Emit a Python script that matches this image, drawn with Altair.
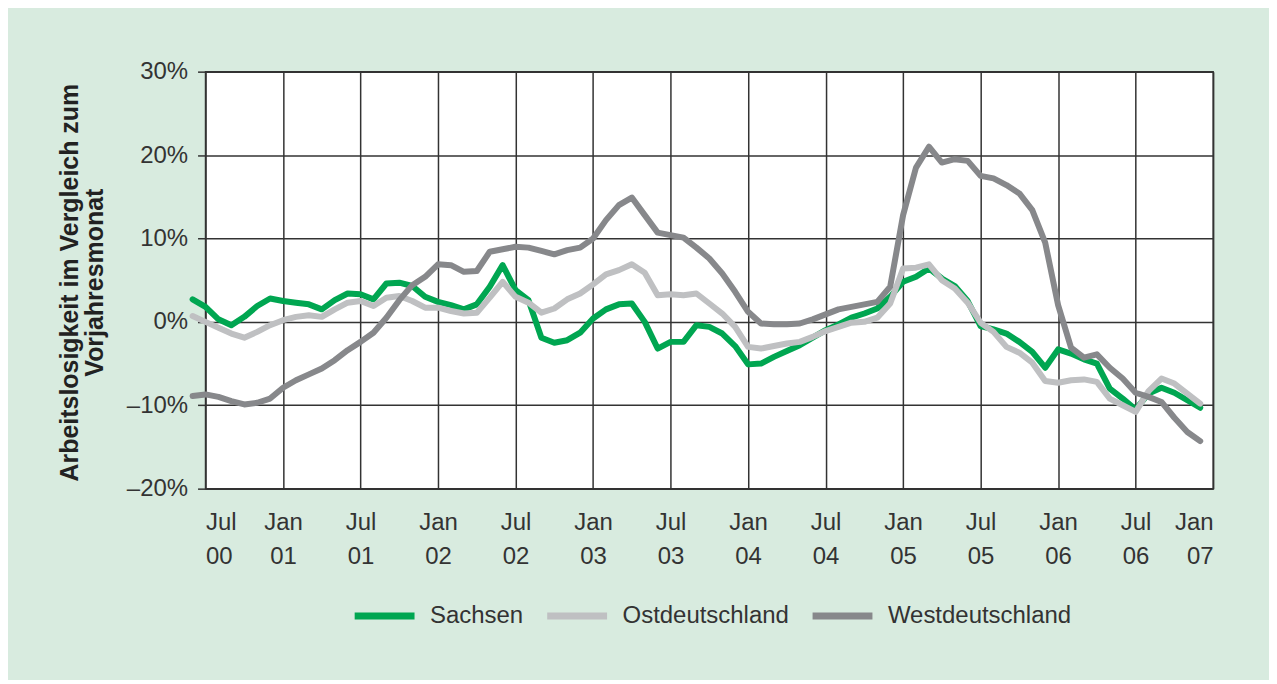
import altair as alt
import pandas as pd

# Monate Jun 2000 .. Dez 2006
monate = [f"{y}-{m:02d}" for y in range(2000, 2007) for m in range(1, 13)][5:]

sachsen = [2.7, 1.8, 0.3, -0.4, 0.6, 1.9, 2.8, 2.5, 2.3, 2.1, 1.5, 2.6, 3.4,
           3.3, 2.7, 4.6, 4.7, 4.3, 3.0, 2.4, 2.0, 1.5, 2.1, 4.2, 6.8,
           3.8, 2.6, -1.9, -2.5, -2.2, -1.3, 0.4, 1.5, 2.1, 2.2, 0.0, -3.2,
           -2.4, -2.4, -0.4, -0.6, -1.4, -2.9, -5.1, -5.0, -4.2, -3.5, -2.8, -1.9,
           -1.0, -0.3, 0.5, 1.0, 1.6, 3.0, 4.8, 5.4, 6.4, 5.2, 4.3, 2.5,
           -0.5, -0.9, -1.4, -2.4, -3.6, -5.5, -3.3, -3.8, -4.5, -5.0, -8.0, -9.2,
           -10.5, -8.6, -7.9, -8.5, -9.4, -10.3]

ost = [0.7, 0.0, -0.7, -1.4, -1.9, -1.2, -0.4, 0.2, 0.6, 0.8, 0.6, 1.5, 2.3,
       2.5, 1.9, 2.9, 3.1, 2.5, 1.7, 1.7, 1.3, 1.0, 1.1, 2.9, 4.8,
       3.0, 2.3, 1.1, 1.6, 2.7, 3.4, 4.5, 5.7, 6.2, 6.9, 5.9, 3.2,
       3.3, 3.2, 3.4, 2.2, 1.0, -0.6, -3.0, -3.2, -2.9, -2.6, -2.4, -1.8,
       -1.1, -0.6, -0.1, 0.0, 0.5, 2.2, 6.4, 6.5, 6.9, 5.0, 4.0, 2.3,
       -0.1, -1.2, -3.0, -3.7, -4.9, -7.1, -7.3, -7.0, -6.9, -7.2, -9.2, -10.0,
       -10.8, -8.3, -6.8, -7.4, -8.6, -9.8]

west = [-8.9, -8.7, -9.0, -9.5, -9.9, -9.7, -9.2, -7.9, -7.0, -6.3, -5.6, -4.6, -3.4,
        -2.4, -1.3, 0.5, 2.6, 4.4, 5.4, 6.9, 6.8, 6.0, 6.1, 8.4, 8.7,
        9.0, 8.9, 8.5, 8.1, 8.6, 8.9, 10.0, 12.2, 14.0, 14.9, 12.8, 10.7,
        10.4, 10.1, 8.9, 7.6, 5.8, 3.6, 1.2, -0.2, -0.3, -0.3, -0.2, 0.3,
        0.9, 1.5, 1.8, 2.1, 2.4, 4.2, 12.8, 18.5, 21.0, 19.1, 19.5, 19.3,
        17.5, 17.2, 16.4, 15.4, 13.4, 9.5, 2.0, -3.1, -4.3, -3.9, -5.5, -6.8,
        -8.5, -9.0, -9.6, -11.5, -13.2, -14.3]

regionen = ["Sachsen", "Ostdeutschland", "Westdeutschland"]
farben = ["#00a651", "#bfc0c2", "#87888b"]
y_ticks = [-20, -10, 0, 10, 20, 30]
x_ticks = list(range(0, 79, 6))  # Monate seit Jul 2000

rows = []
for name, werte in zip(regionen, [sachsen, ost, west]):
    for mon, v in zip(monate, werte):
        y, m = int(mon[:4]), int(mon[5:])
        rows.append({"Region": name, "Monat": mon,
                     "t": (y - 2000) * 12 + (m - 7), "Wert": v})
df = pd.DataFrame(rows)

FONT = "Liberation Sans"
TXT = "#333333"
FS = 24

chart = alt.Chart(df).mark_line(strokeWidth=6, strokeJoin="round", strokeCap="round").encode(
    x=alt.X("t:Q",
            scale=alt.Scale(domain=[0, 78], nice=False, zero=False),
            axis=alt.Axis(values=x_ticks, title=None, ticks=False, tickSize=0, domain=False,
                          labelExpr="[datum.value % 12 == 0 ? 'Jul' : 'Jan', '0' + floor((datum.value + 6) / 12)]",
                          labelLineHeight=34, labelPadding=22, labelFontSize=FS)),
    y=alt.Y("Wert:Q",
            scale=alt.Scale(domain=[-20, 30], nice=False, zero=False),
            axis=alt.Axis(values=y_ticks, domain=False, tickSize=8, tickColor="#333333", tickWidth=1.5,
                          labelExpr="datum.value < 0 ? '\u2013' + abs(datum.value) + '%' : datum.value + '%'",
                          labelPadding=10, labelFontSize=FS,
                          title=["Arbeitslosigkeit im Vergleich zum", "Vorjahresmonat"],
                          titleFontSize=25, titleFontWeight="bold", titleColor="#222222",
                          titleLineHeight=25, titleX=-123, titleY=211, titleAngle=270,
                          titleBaseline="bottom", titleAlign="center")),
    color=alt.Color("Region:N",
                    scale=alt.Scale(domain=regionen, range=farben),
                    sort=regionen,
                    legend=alt.Legend(title=None, orient="none", legendX=146, legendY=512,
                                      direction="horizontal", symbolType="stroke",
                                      symbolSize=3600, symbolStrokeWidth=7,
                                      labelFontSize=FS, labelFont=FONT, labelColor=TXT,
                                      labelLimit=0, labelOffset=12, columnPadding=9)),
    detail="Region:N",
).properties(
    width=1010, height=418,
    background="#d8ebdf",
    padding={"left": 198, "top": 63, "right": 56, "bottom": 191},
    autosize=alt.AutoSizeParams(type="none"),
).configure_view(
    fill="white", stroke="#333333", strokeWidth=1.5
).configure_axis(
    grid=True, gridColor="#333333", gridWidth=1.5, gridOpacity=1,
    labelFont=FONT, labelColor=TXT, titleFont=FONT,
)

chart.save("out.html", embed_options={"renderer": "svg", "actions": False})
